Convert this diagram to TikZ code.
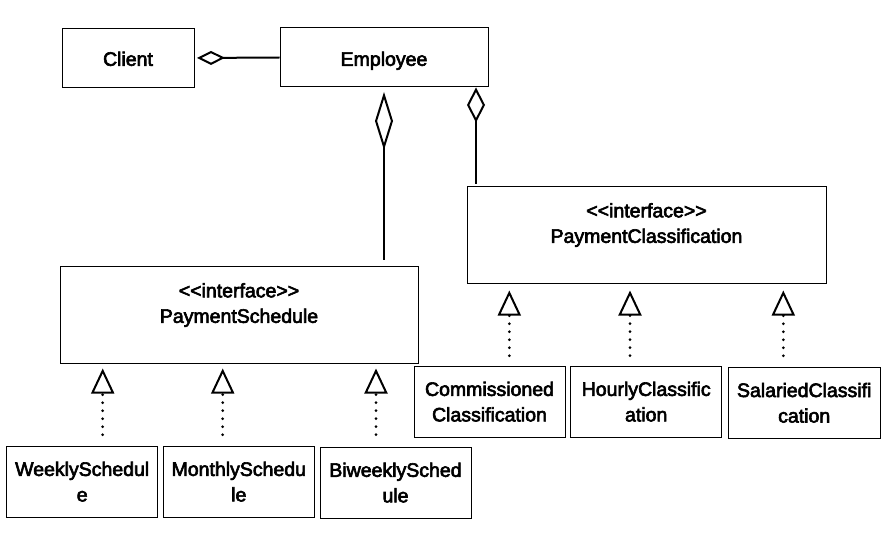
\documentclass[tikz,border=0pt]{standalone}
\usepackage{fontspec}
\setmainfont{Liberation Sans}
\usetikzlibrary{arrows.meta}
\newcommand{\ltlt}{<\kern0pt<}
\newcommand{\gtgt}{>\kern0pt>}
\begin{document}
\begin{tikzpicture}[x=1pt,y=-1pt,
  every node/.style={font=\fontsize{19.5}{25.5}\selectfont, text=black,
    execute at begin node={\special{pdf:literal direct 2 Tr 0.6 w}},
    execute at end node={\special{pdf:literal direct 0 Tr}}},
  umlbox/.style={draw=black, line width=1pt, inner sep=0pt, align=center},
  agg/.style={line width=2pt},
  real/.style={line width=3pt, line cap=round, dash pattern=on 0pt off 8pt}
]
\useasboundingbox (0,0) rectangle (888,540);
\fill[white] (0,0) rectangle (888,540);

\node[umlbox, minimum width=132pt, minimum height=59pt, text depth=0pt] (client) at (128,58) {\raisebox{-1.5pt}{Client}};
\node[umlbox, minimum width=208pt, minimum height=59pt, text depth=0pt] (emp) at (384,57.5) {\raisebox{-2.5pt}{Employee}};

\node[umlbox, minimum width=358pt, minimum height=97pt] (ps) at (239,314.5) {};
\node[align=center, anchor=north, inner sep=0pt] (pstext) at (239,283) {\ltlt interface\gtgt\\PaymentSchedule};

\node[umlbox, minimum width=359pt, minimum height=96pt] (pc) at (646.5,235) {};
\node[align=center, anchor=north, inner sep=0pt] (pctext) at (646.5,203) {\ltlt interface\gtgt\\PaymentClassification};

\node[umlbox, minimum width=151pt, minimum height=71pt] (wk) at (82.2,481.7) {WeeklySchedul\\e};
\node[umlbox, minimum width=151pt, minimum height=71pt] (mo) at (238.8,481.7) {MonthlySchedu\\le};
\node[umlbox, minimum width=151pt, minimum height=71pt] (bi) at (395.5,482.6) {BiweeklySched\\ule};

\node[umlbox, minimum width=151pt, minimum height=71pt] (co) at (489.5,401.7) {Commissioned\\Classification};
\node[umlbox, minimum width=151pt, minimum height=71pt] (ho) at (646.2,401.7) {HourlyClassific\\ation};
\node[umlbox, minimum width=151.7pt, minimum height=71pt] (sa) at (804.2,402.8) {SalariedClassifi\\cation};

% aggregation connectors
\draw[agg, {Diamond[open,length=28pt,width=14pt]}-, shorten <=2.5pt] (client.east) -- (emp.west);
\coordinate (ax1) at (384,0);
\coordinate (ax2) at (476,0);
\draw[agg, {Diamond[open,length=58pt,width=18pt]}-, shorten <=4.5pt, shorten >=6pt] (emp.south -| ax1) -- (ps.north -| ax1);
\draw[agg, {Diamond[open,length=35pt,width=18pt]}-, shorten >=2pt] (emp.south -| ax2) -- (pc.north -| ax2);

% realization connectors
\coordinate (t1) at (102.7,0);
\coordinate (t2) at (222.7,0);
\coordinate (t3) at (376,0);
\coordinate (t4) at (509.3,0);
\coordinate (t5) at (630,0);
\coordinate (t6) at (783.3,0);
\tikzset{tri/.style={-{Triangle[open,length=25pt,width=23pt,line width=2pt,sep=0pt]}}}
\draw[real, tri, shorten <=11pt, shorten >=5pt] (wk.north -| t1) -- (ps.south -| t1);
\draw[real, tri, shorten <=11pt, shorten >=5pt] (mo.north -| t2) -- (ps.south -| t2);
\draw[real, tri, shorten <=12pt, shorten >=5pt] (bi.north -| t3) -- (ps.south -| t3);
\draw[real, tri, shorten <=10pt, shorten >=7pt] (co.north -| t4) -- (pc.south -| t4);
\draw[real, tri, shorten <=10pt, shorten >=7pt] (ho.north -| t5) -- (pc.south -| t5);
\draw[real, tri, shorten <=11pt, shorten >=7pt] (sa.north -| t6) -- (pc.south -| t6);
\end{tikzpicture}
\end{document}
